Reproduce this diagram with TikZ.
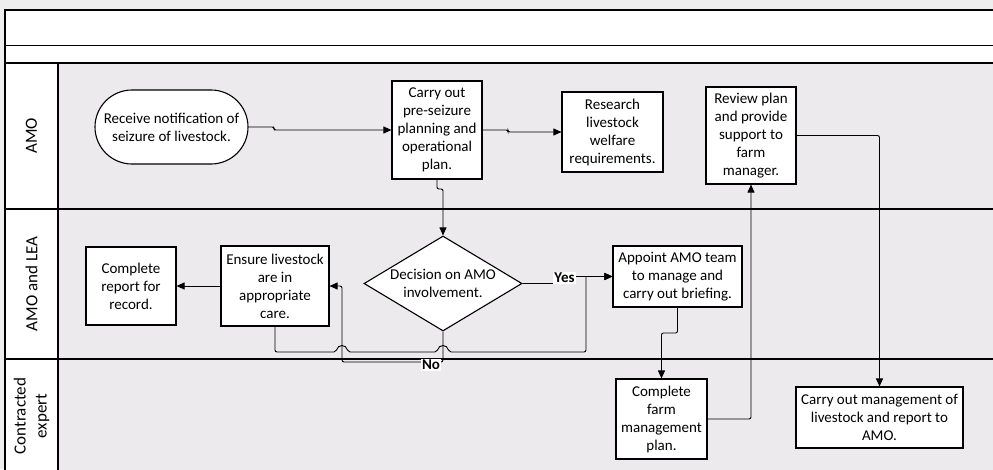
\documentclass[tikz,border=0pt]{standalone}
\usepackage{fontspec}
\setmainfont{Carlito}
\usetikzlibrary{arrows.meta,shapes.geometric}
\definecolor{lanegray}{RGB}{236,234,236}
\definecolor{outgray}{RGB}{238,238,238}
\tikzset{
 box/.style={draw, fill=white, line width=1.1pt, align=center, inner sep=2pt, font=\fontsize{15}{18}\selectfont},
 conn/.style={line width=0.9pt, rounded corners=2pt},
 arr/.style={conn, -{Triangle[length=8pt,width=7pt]}},
 lanelabel/.style={rotate=90, align=center, font=\fontsize{17}{21}\selectfont},
 frameline/.style={line width=1.2pt},
 edgelabel/.style={fill=white, inner sep=1pt, font=\bfseries\fontsize{15}{18}\selectfont}
}
\begin{document}
\begin{tikzpicture}[x=1pt,y=-1pt]
\useasboundingbox (0,0) rectangle (993,469);
\fill[outgray] (0,0) rectangle (993,469);
\begin{scope}
\clip (0,0) rectangle (993,469);
\fill[white] (5,10) rectangle (1000,63);
\fill[white] (5,63) rectangle (58,480);
\fill[lanegray] (58,63) rectangle (1000,480);
\draw[frameline] (1000,10) -- (5,10) -- (5,480);
\draw[frameline] (5,45.5) -- (1000,45.5);
\draw[frameline] (5,63) -- (1000,63);
\draw[frameline] (5,209) -- (1000,209);
\draw[frameline] (5,359) -- (1000,359);
\draw[frameline] (58,63) -- (58,480);
\end{scope}

\node[lanelabel] (l1) at (31.5,136) {AMO};
\node[lanelabel] (l2) at (31.5,284) {AMO and LEA};
\node[lanelabel] (l3) at (31.5,416) {Contracted\\expert};

\node[box, minimum width=153pt, minimum height=74pt, rounded corners=37pt] (term) at (171.5,127) {Receive notification of\\seizure of livestock.};
\node[box, minimum width=90pt, minimum height=98pt] (plan) at (437,130) {Carry out\\pre-seizure\\planning and\\operational\\plan.};
\node[box, minimum width=101pt, minimum height=80pt] (res) at (612.5,132) {Research\\livestock\\welfare\\requirements.};
\node[box, minimum width=90pt, minimum height=97pt] (rev) at (751,135.5) {Review plan\\and provide\\support to\\farm\\manager.};
\node[draw, fill=white, line width=1.1pt, diamond, inner sep=0pt, minimum width=158pt, minimum height=95pt,
  label={[align=center, font=\fontsize{15}{18}\selectfont]center:Decision on AMO\\involvement.}] (dec) at (443,283.5) {};
\node[box, minimum width=108pt, minimum height=80pt] (ens) at (275,286) {Ensure livestock\\are in\\appropriate\\care.};
\node[box, minimum width=90pt, minimum height=78pt] (rep) at (131,286) {Complete\\report for\\record.};
\node[box, minimum width=129pt, minimum height=61pt] (app) at (677.5,276.5) {Appoint AMO team\\to manage and\\carry out briefing.};
\node[box, minimum width=91pt, minimum height=80pt] (farm) at (661.5,419) {Complete\\farm\\management\\plan.};
\node[box, minimum width=167pt, minimum height=61pt] (mgmt) at (879.5,417.5) {Carry out management of\\livestock and report to\\AMO.};

\coordinate (j1) at (274,127);
\coordinate (j2) at (508,130);
\coordinate (j3) at (437,189);
\draw[arr] (term.east) -- (j1) |- (plan.west);
\draw[arr] (plan.east) -- (j2) |- (res.west);
\draw[arr] (plan.south) -- (j3) -| (dec.north);

% Ensure -> Appoint with line hops
\coordinate (h1a) at (336,352);
\coordinate (h1b) at (348,352);
\coordinate (h2a) at (437,352);
\coordinate (h2b) at (449,352);
\coordinate (ec) at (586,352);
\draw[conn] (ens.south) |- (h1a) .. controls (338,344) and (346,344) .. (h1b) -- (h2a) .. controls (439,344) and (447,344) .. (h2b) -- (ec) -- (586,276.5);
\draw[arr] (586,276.5) -- (app.west);

% No branch
\coordinate (n1) at (443,362);
\coordinate (n2) at (342,362);
\draw[arr] (dec.south) -- (n1) -- (n2) |- (ens.east);
\node[edgelabel] (no) at (431,365) {No};

% Yes branch
\coordinate (y1) at (565,283.5);
\coordinate (y2) at (565,276.5);
\draw[arr] (dec.east) -- (y1) -- (y2) -- (app.west);
\node[edgelabel] (yes) at (564.5,278) {Yes};

\draw[arr] (ens.west) -- (rep.east);
\coordinate (j4) at (677.5,333);
\draw[arr] (app.south) -- (j4) -| (farm.north);
\draw[arr] (farm.east) -| (rev.south);
\draw[arr] (rev.east) -| (mgmt.north);
\end{tikzpicture}
\end{document}
